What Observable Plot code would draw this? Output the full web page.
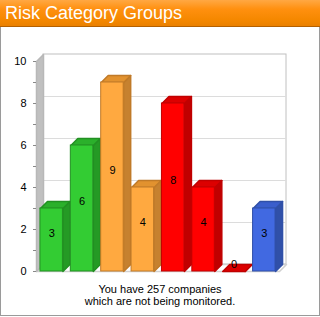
<!DOCTYPE html>
<html>
<head>
<meta charset="utf-8">
<script src="https://cdn.jsdelivr.net/npm/d3@7"></script>
<script src="https://cdn.jsdelivr.net/npm/@observablehq/plot@0.6"></script>
<style>
  html, body { margin: 0; padding: 0; background: #fff; }
  #frame { position: relative; width: 320px; height: 317px; font-family: "Liberation Sans", Arial, sans-serif; overflow: hidden; }
  #title { position: absolute; left: 0; top: 0; width: 320px; height: 27px; box-sizing: border-box;
           background: linear-gradient(#ffa843 0%, #ff900f 35%, #f58800 75%, #ea8000 100%);
           border-bottom: 1px solid #b46000; color: #fff; font-size: 18px; line-height: 27px; padding-left: 5px; }
  #body { position: absolute; left: 0; top: 27px; width: 320px; height: 289px; box-sizing: border-box;
          border: 1px solid #9a9a9a; border-top: none; }
  #chart { position: absolute; left: 0; top: 28px; }
  #caption { position: absolute; left: 0; top: 283px; width: 320px; text-align: center; font-size: 11px; line-height: 12px; color: #000; }
</style>
</head>
<body>
<div id="frame">
  <div id="title">Risk Category Groups</div>
  <div id="body"></div>
  <div id="chart"></div>
  <div id="caption">You have 257 companies<br>which are not being monitored.</div>
</div>
<script>
// ---- data ----
const categories = ["Low 1", "Low 2", "Medium 1", "Medium 2", "High 1", "High 2", "High 3", "Other"];
const values = [3, 6, 9, 4, 8, 4, 0, 3];
const groups = ["low", "low", "medium", "medium", "high", "high", "high", "other"];
const yTicks = [0, 1, 2, 3, 4, 5, 6, 7, 8, 9, 10];
const gridValues = [2, 4, 6, 8];

// ---- styles ----
const palette = {
  low:    {front: "#33cc33", top: "#2bb02b", side: "#259a25", edge: "#229022"},
  medium: {front: "#ffa940", top: "#e2922f", side: "#c6812f", edge: "#c07a28"},
  high:   {front: "#ff0000", top: "#dc0000", side: "#c00000", edge: "#c00000"},
  other:  {front: "#4169e1", top: "#3a5ecc", side: "#3050a8", edge: "#3050a8"}
};
const DX = 7 / (243 / 8);   // 3D depth in x data units
const DY = 7 / 21;          // 3D depth in y data units
const B0 = 0.13, B1 = 0.87; // bar extent within its slot
const N = categories.length;

const bars = categories.map((c, i) => ({i, c, v: values[i], g: groups[i]}));

function poly(id, pts, extra) {
  return pts.concat([pts[0]]).map(([x, y]) => ({id, x, y, ...extra}));
}

const sides = bars.flatMap(b => poly("s" + b.i, [
  [b.i + B1, 0], [b.i + B1 + DX, DY], [b.i + B1 + DX, b.v + DY], [b.i + B1, b.v]
], {fill: palette[b.g].side, stroke: palette[b.g].edge}));
const tops = bars.flatMap(b => poly("t" + b.i, [
  [b.i + B0, b.v], [b.i + B0 + DX, b.v + DY], [b.i + B1 + DX, b.v + DY], [b.i + B1, b.v]
], {fill: palette[b.g].top, stroke: palette[b.g].edge}));

const sideWall = poly("wall", [[0, 0], [0, 10], [DX, 10 + DY], [DX, DY]], {});
const floor = poly("floor", [[0, 0], [N, 0], [N + DX, DY], [DX, DY]], {});

const chart = Plot.plot({
  width: 320,
  height: 252,
  marginLeft: 36,
  marginRight: 41,
  marginTop: 33,
  marginBottom: 9,
  style: {fontFamily: "'Liberation Sans', Arial, sans-serif", fontSize: "11px", color: "#000", background: "transparent", overflow: "visible"},
  x: {type: "linear", domain: [0, N], axis: null},
  y: {type: "linear", domain: [0, 10], axis: null},
  color: {type: "identity"},
  marks: [
    // back wall
    Plot.rect([0], {x1: DX, x2: N + DX, y1: DY, y2: 10 + DY, fill: "#fff", stroke: "#c0c0c0"}),
    Plot.ruleY(gridValues, {y: d => d + DY, x1: DX, x2: N + DX, stroke: "#dcdcdc"}),
    // floor
    Plot.line(floor, {x: "x", y: "y", z: "id", fill: "#ffffff", stroke: "#d0d0d0", curve: "linear"}),
    // left side wall
    Plot.line(sideWall, {x: "x", y: "y", z: "id", fill: "#c0c0c0", stroke: "#b8b8b8", curve: "linear"}),
    // bar sides and tops
    Plot.line(sides, {x: "x", y: "y", z: "id", fill: "fill", stroke: "stroke", curve: "linear"}),
    Plot.line(tops, {x: "x", y: "y", z: "id", fill: "fill", stroke: "stroke", curve: "linear"}),
    // bar fronts
    Plot.rect(bars, {x1: d => d.i + B0, x2: d => d.i + B1, y1: 0, y2: "v",
      fill: d => palette[d.g].front, stroke: d => palette[d.g].edge, strokeWidth: 1}),
    // value labels
    Plot.text(bars, {x: d => d.i + 0.5, y: d => d.v / 2, dy: -7, text: d => String(d.v), fill: "#000", fontSize: 11}),
    // y axis
    Plot.axisY(yTicks, {tickSize: 3, tickPadding: 7, stroke: "#888", fill: "#000",
      tickFormat: d => (d % 2 === 0 ? String(d) : "")})
  ]
});
document.getElementById("chart").appendChild(chart);
</script>
</body>
</html>
